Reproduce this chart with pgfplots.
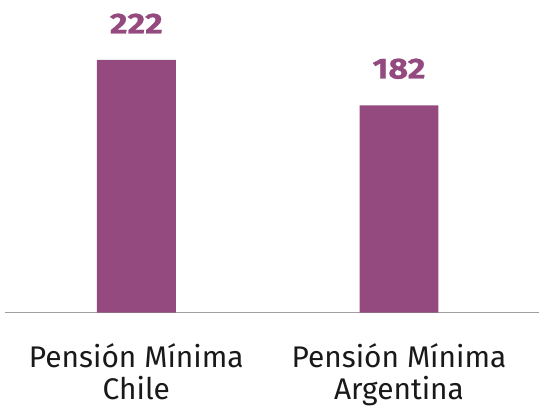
\documentclass[border=0pt]{standalone}
\usepackage{pgfplots}
\pgfplotsset{compat=1.18}
\usepackage{fontspec}
\setmainfont{Fira Sans}
\newfontfamily\numfont[FakeStretch=1.18,FakeBold=0.8]{Fira Sans}
\definecolor{barc}{HTML}{944A7E}
\definecolor{axc}{HTML}{A0A0A0}
\begin{document}
\begin{tikzpicture}
\begin{axis}[
  scale only axis,
  width=535bp, height=285bp,
  xmin=-0.5, xmax=1.534,
  ymin=0, ymax=250,
  axis x line*=bottom,
  axis y line=none,
  x axis line style={draw=axc,line width=1.5bp,-},
  xtick={0,1}, major tick length=0pt,
  xticklabels={{Pensión Mínima\\Chile},{Pensión Mínima\\Argentina}},
  xticklabel style={align=center,font=\fontsize{30}{33}\selectfont,text=black!90,yshift=-27bp},
  ytick=\empty,
  ybar, bar width=79bp,
  nodes near coords,
  every node near coord/.append style={font=\numfont\fontsize{29}{32}\selectfont\bfseries,text=barc,yshift=23bp,
    /pgf/number format/assume math mode=true},
  clip=false,
]
\addplot[fill=barc,draw=none] coordinates {(0,222) (1,182)};
\coordinate (bt) at (axis cs:0,222);
\end{axis}
\path (current axis.south west) ++(-5bp,0) coordinate (padl);
\path (bt) ++(0,60bp) coordinate (padt);
\end{tikzpicture}
\end{document}
